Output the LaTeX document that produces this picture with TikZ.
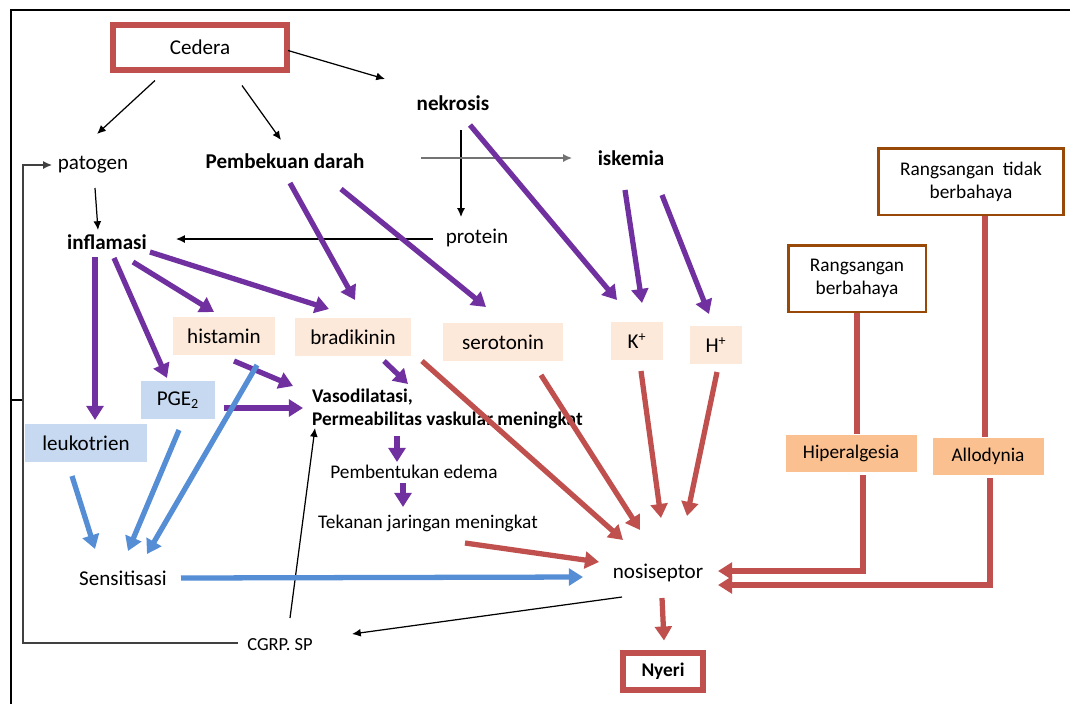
\documentclass[tikz,border=0pt]{standalone}
\usepackage{fontspec}
\setmainfont{Carlito}
\usetikzlibrary{arrows.meta, calc}

\definecolor{ungu}{HTML}{7030A0}
\definecolor{merah}{HTML}{C0504D}
\definecolor{biru}{HTML}{558ED5}
\definecolor{krem}{HTML}{FDE9D9}
\definecolor{birumuda}{HTML}{C6D9F1}
\definecolor{oranye}{HTML}{FAC090}
\definecolor{coklat}{HTML}{984807}

\begin{document}
\begin{tikzpicture}[x=0.02cm, y=-0.02cm,
    every node/.style={font=\fontsize{12}{14}\selectfont, inner sep=1pt},
    tebal/.style={font=\fontsize{12}{14}\selectfont\bfseries},
    kecil/.style={font=\fontsize{11}{13}\selectfont},
    kotak/.style={fill=#1, minimum height=0.76cm},
    bingkai/.style={draw=merah, line width=3.4pt, fill=white},
    kotakcoklat/.style={draw=coklat, line width=1.7pt, align=center, minimum height=1.34cm, font=\fontsize{11}{13}\selectfont},
    hitam/.style={draw=black, line width=0.7pt, -{Latex[length=5pt,width=4.5pt]}},
    pungu/.style={draw=ungu, line width=3pt, -{Triangle[length=8pt,width=9.5pt]}},
    pbiru/.style={draw=biru, line width=3pt, -{Triangle[length=8pt,width=9.5pt]}},
    pmerah/.style={draw=merah, line width=3pt, -{Triangle[length=8pt,width=9.5pt]}},
    gmerah/.style={draw=merah, line width=3.2pt}]

    \useasboundingbox (0,0) rectangle (1070,704);

    % Bingkai halaman
    \draw[line width=1.1pt] (11,704) -- (11,10) -- (1070,10);
    \draw[line width=1.1pt] (11,400) -- (23,400);

    % Baris atas
    \node[bingkai, minimum width=3.48cm, minimum height=0.9cm] (cedera) at (200,47.5) {Cedera};
    \node[tebal] (nekrosis) at (453,103) {nekrosis};
    \node (patogen) at (93,165) {patogen};
    \node[tebal] (pembekuan) at (285,161) {Pembekuan darah};
    \node[tebal] (iskemia) at (631,158) {iskemia};
    \node (protein) at (477,238) {protein};
    \node[tebal] (inflamasi) at (107,242) {inflamasi};

    % Mediator
    \node[kotak=krem, minimum width=2.06cm] (histamin) at (224,336) {histamin};
    \node[kotak=krem, minimum width=2.32cm] (bradikinin) at (353,337) {bradikinin};
    \node[kotak=krem, minimum width=2.40cm] (serotonin) at (503,342) {serotonin};
    \node[kotak=krem, minimum width=1.04cm] (kalium) at (637,341) {K\textsuperscript{+}};
    \node[kotak=krem, minimum width=1.04cm] (hidrogen) at (716,345) {H\textsuperscript{+}};
    \node[kotak=birumuda, minimum width=1.48cm] (pge) at (178,400) {PGE\textsubscript{2}};
    \node[kotak=birumuda, minimum width=2.44cm] (leukotrien) at (86,443) {leukotrien};

    % Kolom tengah
    \node[anchor=west, align=left, font=\fontsize{11}{13}\selectfont\bfseries] (vaso) at (310,409)
        {Vasodilatasi,\\Permeabilitas vaskular meningkat};
    \node[kecil] (edema) at (414,472) {Pembentukan edema};
    \node[kecil] (tekanan) at (428,523) {Tekanan jaringan meningkat};
    \node (sensitisasi) at (123,578) {Sensitisasi};
    \node[font=\fontsize{10.5}{12}\selectfont] (cgrp) at (280,645) {CGRP. SP};
    \node (nosiseptor) at (658,573) {nosiseptor};
    \node[bingkai, minimum width=1.6cm, minimum height=0.74cm, font=\fontsize{11}{13}\selectfont\bfseries] (nyeri) at (663,671.5) {Nyeri};

    % Rangsangan di kanan
    \node[kotakcoklat, minimum width=3.7cm] (tidakbahaya) at (971,181.5) {Rangsangan~ tidak\\berbahaya};
    \node[kotakcoklat, minimum width=2.76cm] (bahaya) at (857,278.5) {Rangsangan\\berbahaya};
    \node[kotak=oranye, minimum width=2.62cm, minimum height=0.74cm, kecil] (hiperalgesia) at (851,453) {Hiperalgesia};
    \node[kotak=oranye, minimum width=2.22cm, minimum height=0.74cm, kecil] (allodynia) at (988,456) {Allodynia};
    \coordinate (tb) at ($(tidakbahaya.south)+(14,0)$);

    % Panah hitam
    \draw[hitam] ($(cedera)+(-45,33)$) -- ($(patogen)+(4,-31)$);
    \draw[hitam] ($(cedera)+(42,38)$) -- ($(pembekuan)+(-4,-21)$);
    \draw[hitam] ($(cedera)+(88,3)$) -- ($(nekrosis)+(-68,-24)$);
    \draw[hitam] ($(patogen)+(2,23)$) -- ($(inflamasi)+(-9,-12)$);
    \draw[hitam] ($(nekrosis)+(8,27)$) -- ($(protein)+(-16,-21)$);
    \draw[hitam, draw=black!55] ($(pembekuan)+(136,-3)$) -- ($(iskemia)+(-59,0)$);
    \draw[hitam] ($(protein)+(-44,1)$) -- ($(inflamasi)+(69,-3)$);
    \draw[hitam] ($(nosiseptor)+(-36,24)$) -- ($(cgrp)+(72,-11)$);
    \draw[hitam] ($(cgrp)+(10,-27)$) -- ($(vaso.west)+(5,19)$);
    \draw[hitam, draw=black!75] ($(cgrp)+(-42,-2)$) -| ($(patogen)+(-70,0)$) -- ($(patogen)+(-41,0)$);

    % Panah ungu
    \draw[pungu] ($(nekrosis)+(17,22)$) -- ($(kalium)+(-20,-41)$);
    \draw[pungu] ($(iskemia)+(-6,32)$) -- ($(kalium)+(5,-38)$);
    \draw[pungu] ($(iskemia)+(31,37)$) -- ($(hidrogen)+(-7,-31)$);
    \draw[pungu] ($(pembekuan)+(5,22)$) -- ($(bradikinin)+(2,-37)$);
    \draw[pungu] ($(pembekuan)+(56,28)$) -- ($(serotonin)+(-17,-35)$);
    \draw[pungu] ($(inflamasi)+(-12,15)$) -- ($(leukotrien)+(9,-23)$);
    \draw[pungu] ($(inflamasi)+(7,16)$) -- ($(pge)+(-11,-22)$);
    \draw[pungu] ($(inflamasi)+(26,20)$) -- ($(histamin)+(-10,-24)$);
    \draw[pungu] ($(inflamasi)+(43,10)$) -- ($(bradikinin)+(-24,-28)$);
    \draw[pungu] ($(histamin)+(10,25)$) -- ($(vaso.west)+(-17,-23)$);
    \draw[pungu] ($(pge)+(46,8)$) -- ($(vaso.west)+(-7,-1)$);
    \draw[pungu] ($(bradikinin)+(31,24)$) -- ($(vaso.west)+(98,-25)$);
    \draw[pungu] ($(vaso.west)+(87,27)$) -- ($(edema)+(-17,-10)$);
    \draw[pungu] ($(edema)+(-11,11)$) -- ($(tekanan)+(-25,-16)$);

    % Panah biru
    \draw[pbiru] ($(leukotrien)+(-14,33)$) -- ($(sensitisasi)+(-28,-29)$);
    \draw[pbiru] ($(pge)+(1,30)$) -- ($(sensitisasi)+(5,-27)$);
    \draw[pbiru] ($(histamin)+(33,29)$) -- ($(sensitisasi)+(24,-24)$);
    \draw[pbiru] ($(sensitisasi)+(58,0)$) -- ($(nosiseptor)+(-75,4)$);

    % Panah merah
    \draw[pmerah] ($(bradikinin)+(69,24)$) -- ($(nosiseptor)+(-35,-33)$);
    \draw[pmerah] ($(serotonin)+(38,33)$) -- ($(nosiseptor)+(-18,-43)$);
    \draw[pmerah] ($(kalium)+(4,30)$) -- ($(nosiseptor)+(3,-55)$);
    \draw[pmerah] ($(hidrogen)+(1,27)$) -- ($(nosiseptor)+(29,-57)$);
    \draw[pmerah] ($(tekanan)+(37,20)$) -- ($(nosiseptor)+(-59,-11)$);
    \draw[pmerah] ($(nosiseptor)+(4,25)$) -- ($(nyeri)+(1,-31)$);
    \draw[gmerah] (bahaya.south) -- (bahaya.south |- hiperalgesia.north);
    \draw[gmerah] (tb) -- (tb |- allodynia.north);
    \draw[pmerah, line width=3.2pt] ($(hiperalgesia.south)+(12,3)$) |- ($(nosiseptor)+(60,-2)$);
    \draw[pmerah, line width=3.2pt] ($(allodynia.south)+(2,3)$) |- ($(nosiseptor)+(60,12)$);

\end{tikzpicture}
\end{document}
